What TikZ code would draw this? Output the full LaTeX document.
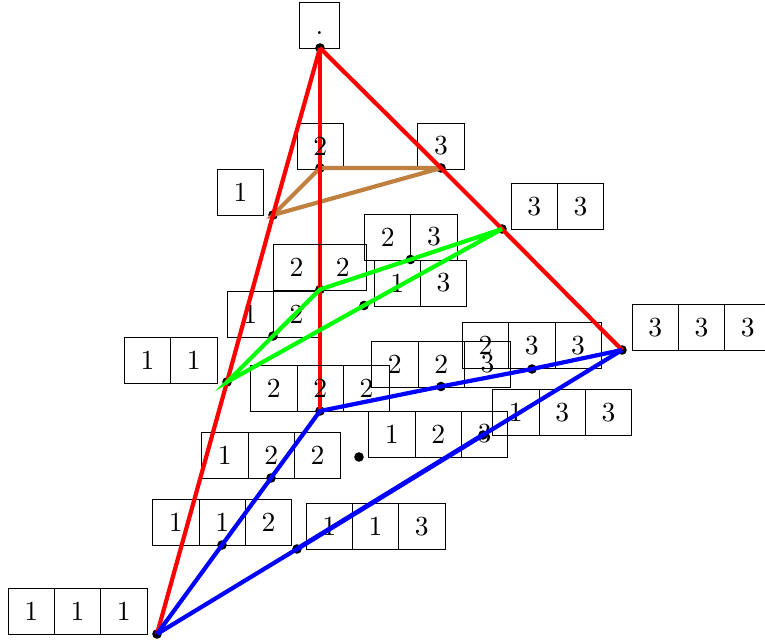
\documentclass[tikz,border=0pt]{standalone}
\usepackage{graphicx}
\newcommand{\cnum}[1]{\scalebox{2.07}{\vphantom{1}#1}}
\tikzset{
  cell/.style={draw=black,line width=0.55pt,minimum width=34.75pt,minimum height=34.6pt,inner sep=0pt,outer sep=0pt,anchor=north west},
  celltext/.style={inner sep=0pt,outer sep=0pt},
  vert/.style={circle,fill=black,inner sep=0pt,outer sep=0pt,minimum size=7.2pt},
  thick line/.style={line width=3.15pt,line join=miter},
  brownline/.style={thick line,draw={rgb,255:red,191;green,128;blue,64}},
  greenline/.style={thick line,draw={rgb,255:red,0;green,255;blue,0}},
  redline/.style={thick line,draw={rgb,255:red,255;green,0;blue,0}},
  blueline/.style={thick line,draw={rgb,255:red,0;green,0;blue,255}}
}
\begin{document}
\begin{tikzpicture}[x=0.75pt,y=-0.75pt]
\useasboundingbox (0,0) rectangle (765,641);
\clip (0,0) rectangle (765,641);
% tableaux under the lines
\node[cell,minimum width=30pt] (e) at (299.5,2) {\cnum{.}};
\node[cell] (a1) at (217.3,169.3) {\cnum{1}};
\node[cell] (a2) at (297,123) {};
\node[cell] (a3) at (417.8,123) {\cnum{3}};
\node[cell] (b11a) at (124.3,337) {\cnum{1}};
\node[cell] (b11b) at (170.6,337) {\cnum{1}};
\node[cell] (b12a) at (227,291) {\cnum{1}};
\node[cell] (b12b) at (273.3,291) {\cnum{2}};
\node[cell] (b23a) at (364.5,214) {\cnum{2}};
\node[cell] (b23b) at (410.8,214) {\cnum{3}};
\node[cell] (b13a) at (374,260) {\cnum{1}};
\node[cell] (b13b) at (420.3,260) {\cnum{3}};
\node[cell] (b33a) at (511,183.5) {\cnum{3}};
\node[cell] (b33b) at (557.3,183.5) {\cnum{3}};
\node[cell] (c111a) at (8,588.5) {\cnum{1}};
\node[cell] (c111b) at (54.3,588.5) {\cnum{1}};
\node[cell] (c111c) at (100.6,588.5) {\cnum{1}};
\node[cell] (c112a) at (152.7,499.2) {\cnum{1}};
\node[cell] (c112b) at (199,499.2) {\cnum{1}};
\node[cell] (c112c) at (245.3,499.2) {\cnum{2}};
\node[cell] (c113a) at (306,503.3) {\cnum{1}};
\node[cell] (c113b) at (352.3,503.3) {\cnum{1}};
\node[cell] (c113c) at (398.6,503.3) {\cnum{3}};
\node[cell] (c122a) at (201.7,432) {\cnum{1}};
\node[cell] (c122b) at (248,432) {\cnum{2}};
\node[cell] (c122c) at (294.3,432) {\cnum{2}};
\node[cell] (c123a) at (368.7,411) {\cnum{1}};
\node[cell] (c123b) at (415,411) {\cnum{2}};
\node[cell] (c123c) at (461.3,411) {\cnum{3}};
\node[cell] (c133a) at (492.7,389.7) {\cnum{1}};
\node[cell] (c133b) at (539,389.7) {\cnum{3}};
\node[cell] (c133c) at (585.3,389.7) {\cnum{3}};
\node[cell] (c223a) at (371.7,341) {\cnum{2}};
\node[cell] (c223b) at (418,341) {\cnum{2}};
\node[cell] (c223c) at (464.3,341) {\cnum{3}};
\node[cell] (c233a) at (462.3,322.7) {\cnum{2}};
\node[cell] (c233b) at (508.6,322.7) {\cnum{3}};
\node[cell] (c233c) at (554.9,322.7) {\cnum{3}};
\node[cell] (c333a) at (632,304.3) {\cnum{3}};
\node[cell] (c333b) at (678.3,304.3) {\cnum{3}};
\node[cell] (c333c) at (724.6,304.3) {\cnum{3}};
% vertices
\node[vert] (pe) at (320,48) {};
\node[vert] (p1) at (273,215) {};
\node[vert] (p2) at (320,168) {};
\node[vert] (p3) at (441,168) {};
\node[vert] (p11) at (227,382) {};
\node[vert] (p12) at (273,336) {};
\node[vert] (p22) at (320,289.5) {};
\node[vert] (p23) at (410.5,259.5) {};
\node[vert] (p13) at (364,305.5) {};
\node[vert] (p33) at (502,229) {};
\node[vert] (p111) at (157,634) {};
\node[vert] (p112) at (222,545) {};
\node[vert] (p113) at (297,549) {};
\node[vert] (p122) at (271,478) {};
\node[vert] (p123) at (359,457) {};
\node[vert] (p133) at (483,435) {};
\node[vert] (p222) at (320,411) {};
\node[vert] (p223) at (441,386.5) {};
\node[vert] (p233) at (532,369) {};
\node[vert] (p333) at (622,350) {};
% brown triangle, then the vertical red edge
\draw[brownline] (p3.center) -- (p2.center) -- (p1.center) -- (p3.center);
\draw[redline] (pe.center) -- (p2.center) -- (p22.center) -- (p222.center);
% tableaux over the vertical edge
\node[celltext] (a2t) at (a2.center) {\cnum{2}};
\node[cell] (b22a) at (273.3,244.3) {\cnum{2}};
\node[cell] (b22b) at (319.6,244.3) {\cnum{2}};
\node[cell] (c222a) at (250.7,365.5) {\cnum{2}};
\node[cell] (c222b) at (297,365.5) {\cnum{2}};
\node[cell] (c222c) at (343.3,365.5) {\cnum{2}};
% remaining edges
\draw[redline] (pe.center) -- (p1.center) -- (p11.center) -- (p111.center);
\draw[redline] (pe.center) -- (p3.center) -- (p33.center) -- (p333.center);
\draw[greenline] (p33.center) -- (p23.center) -- (p22.center) -- (p12.center) -- (p11.center) -- (p13.center) -- (p33.center);
\draw[blueline] (p111.center) -- (p112.center) -- (p122.center) -- (p222.center) -- (p223.center) -- (p233.center) -- (p333.center);
\draw[blueline] (p333.center) -- (p133.center);
\draw[blueline] ([yshift=0.3pt]p133.center) -- ([yshift=0.3pt]p113.center);
\draw[blueline] ([yshift=-0.2pt]p133.center) -- ([yshift=-0.2pt]p113.center);
\draw[blueline] (p113.center) -- (p111.center);
\end{tikzpicture}
\end{document}
